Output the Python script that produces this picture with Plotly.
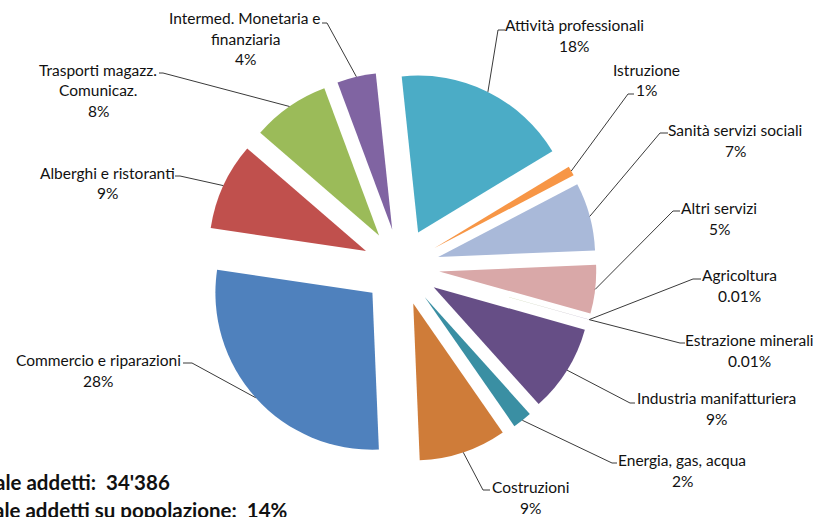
import math
import plotly.graph_objects as go

# ---------------- data ----------------
categories = [
    "Attività professionali",
    "Istruzione",
    "Sanità servizi sociali",
    "Altri servizi",
    "Agricoltura",
    "Estrazione minerali",
    "Industria manifatturiera",
    "Energia, gas, acqua",
    "Costruzioni",
    "Commercio e riparazioni",
    "Alberghi e ristoranti",
    "Trasporti magazz.\nComunicaz.",
    "Intermed. Monetaria e\nfinanziaria",
]
shares = [18, 1, 7, 5, 0.01, 0.01, 9, 2, 9, 28, 9, 8, 4]
total_addetti = "34'386"
addetti_su_popolazione = "14%"

# ---------------- style ----------------
colors = ["#4BACC6", "#F79646", "#A9B9D9", "#D9A8A8", "#C3D69B", "#B3A2C7",
          "#664E86", "#3A8FA3", "#CF7C39", "#4F81BD", "#C0504D", "#9BBB59", "#8064A2"]

W, H = 814, 517
CX, CY = 401, 267          # pie centre (px)
R = 157                    # slice radius (px)
PULL = 0.245
ROT = -6
HALF = R * (1 + PULL)

FONT = "Lato"
FS = 15.5
LH = 20.5

# label layout: centre x of text block, y of first line, anchor point of leader, tick end
label_layout = [
    (574, 25, (498, 30), (505, 30)),
    (646, 70, (628, 94), (634, 94)),
    (735, 130, (660, 133), (668, 133)),
    (719, 208, (673, 211), (680, 211)),
    (739, 275, (693, 279), (701, 279)),
    (749, 340, (680, 343), (685, 343)),
    (716, 398, (630, 403), (635, 403)),
    (682, 460, (612, 463), (617, 463)),
    (530, 487, (483, 490), (490, 490)),
    (98, 360, (192, 363), (183, 363)),
    (107, 173, (180, 176), (175, 176)),
    (98, 70, (163, 73), (159, 73)),
    (245, 18, (327, 23), (322, 23)),
]


def px(x):
    return x / W


def py(y):
    return 1 - y / H


def fmt(v):
    return f"{v:.2f}%" if v < 0.5 else f"{v:.0f}%"


fig = go.Figure(go.Pie(
    values=shares,
    labels=[c.replace("\n", " ") for c in categories],
    marker=dict(colors=colors, line=dict(width=0)),
    pull=[PULL] * len(shares),
    rotation=ROT,
    direction="clockwise",
    sort=False,
    textinfo="none",
    hoverinfo="label+percent",
    showlegend=False,
    domain=dict(x=[px(CX - HALF), px(CX + HALF)], y=[py(CY + HALF), py(CY - HALF)]),
))

annotations = []
shapes = []
tot = sum(shares)
cum = 0.0
for cat, v, (tx, ty, anc, tick) in zip(categories, shares, label_layout):
    mid = ROT + (cum + v / 2) / tot * 360
    cum += v
    a = math.radians(mid)
    sx = CX + (R + PULL * R) * math.sin(a)
    sy = CY - (R + PULL * R) * math.cos(a)
    shapes.append(dict(
        type="path", xref="paper", yref="paper",
        path=f"M{px(sx)},{py(sy)} L{px(anc[0])},{py(anc[1])} L{px(tick[0])},{py(tick[1])}",
        line=dict(color="#3a3a3a", width=1),
    ))
    lines = cat.split("\n") + [fmt(v)]
    for i, t in enumerate(lines):
        annotations.append(dict(
            x=px(tx), y=py(ty + i * LH), xref="paper", yref="paper",
            text=t, showarrow=False, xanchor="center", yanchor="middle",
            font=dict(family=FONT, size=FS, color="#111111"),
        ))

annotations.append(dict(
    x=px(172), y=py(482), xref="paper", yref="paper", xanchor="right", yanchor="middle",
    text=f"<b>Totale addetti:  {total_addetti}</b>", showarrow=False,
    font=dict(family=FONT, size=20.5, color="#111111"),
))
annotations.append(dict(
    x=px(290), y=py(510), xref="paper", yref="paper", xanchor="right", yanchor="middle",
    text=f"<b>Totale addetti su popolazione:  {addetti_su_popolazione}</b>", showarrow=False,
    font=dict(family=FONT, size=20.5, color="#111111"),
))

fig.update_layout(
    width=W, height=H,
    margin=dict(l=0, r=0, t=0, b=0),
    paper_bgcolor="white", plot_bgcolor="white",
    annotations=annotations, shapes=shapes,
)

fig.write_html("out.html")
